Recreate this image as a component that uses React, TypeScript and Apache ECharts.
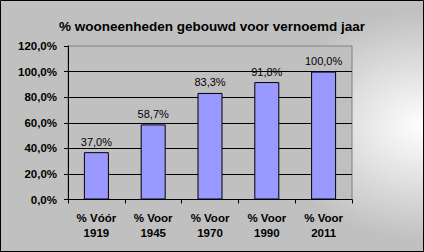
import React, { useEffect, useRef } from "react";
import * as echarts from "echarts";

const titleText = "% wooneenheden gebouwd voor vernoemd jaar";
const categories = ["% Vóór\n1919", "% Voor\n1945", "% Voor\n1970", "% Voor\n1990", "% Voor\n2011"];
const values = [37.0, 58.7, 83.3, 91.8, 100.0];
const yMin = 0;
const yMax = 120;
const yInterval = 20;

const fmt = (v: number) => v.toFixed(1).replace(".", ",") + "%";

export default function App() {
  const ref = useRef<HTMLDivElement>(null);
  useEffect(() => {
    if (!ref.current) return;
    const chart = echarts.init(ref.current, null, { renderer: "svg" });
    const font = "'Liberation Sans', Arial, sans-serif";
    chart.setOption({
      animation: false,
      backgroundColor: "transparent",
      title: {
        text: titleText,
        left: "center",
        top: 14,
        textStyle: { fontFamily: font, fontWeight: "bold", fontSize: 13.5, color: "#000" },
      },
      grid: {
        left: 68,
        top: 46,
        width: 284,
        height: 153.5,
        show: true,
        backgroundColor: "#c0c0c0",
        borderColor: "#808080",
        borderWidth: 1,
      },
      xAxis: {
        type: "category",
        data: categories,
        axisLine: { show: true, lineStyle: { color: "#000", width: 1 } },
        axisTick: { show: true, length: 4, lineStyle: { color: "#000" } },
        axisLabel: {
          fontFamily: font,
          fontWeight: "bold",
          fontSize: 11.5,
          color: "#000",
          margin: 11,
          lineHeight: 15,
        },
      },
      yAxis: {
        type: "value",
        min: yMin,
        max: yMax,
        interval: yInterval,
        axisLine: { show: true, lineStyle: { color: "#000", width: 1 } },
        axisTick: { show: true, length: 4, lineStyle: { color: "#000" } },
        axisLabel: {
          fontFamily: font,
          fontWeight: "bold",
          fontSize: 11.5,
          color: "#000",
          margin: 11,
          formatter: (v: number) => fmt(v),
        },
        splitLine: {
          show: true,
          showMaxLine: false,
          lineStyle: { color: "#000", width: 1 },
        },
      },
      series: [
        {
          type: "bar",
          data: values,
          barWidth: 25,
          itemStyle: { color: "#9999ff", borderColor: "#000", borderWidth: 1 },
          label: {
            show: true,
            position: "top",
            distance: 5,
            fontFamily: font,
            fontSize: 11,
            color: "#000",
            formatter: (p: any) => fmt(p.value),
          },
        },
      ],
      graphic: [
        {
          type: "rect",
          shape: { x: 0.5, y: 0.5, width: 423, height: 251 },
          style: { fill: "none", stroke: "#000", lineWidth: 1 },
          silent: true,
        },
      ],
    });
    return () => chart.dispose();
  }, []);
  return (
    <div
      ref={ref}
      style={{
        position: "absolute",
        left: 0,
        top: 0,
        width: 424,
        height: 252,
        background: "radial-gradient(ellipse 150px 115px at 100% 50%, #ffffff 0%, #c0c0c0 100%)",
      }}
    />
  );
}
